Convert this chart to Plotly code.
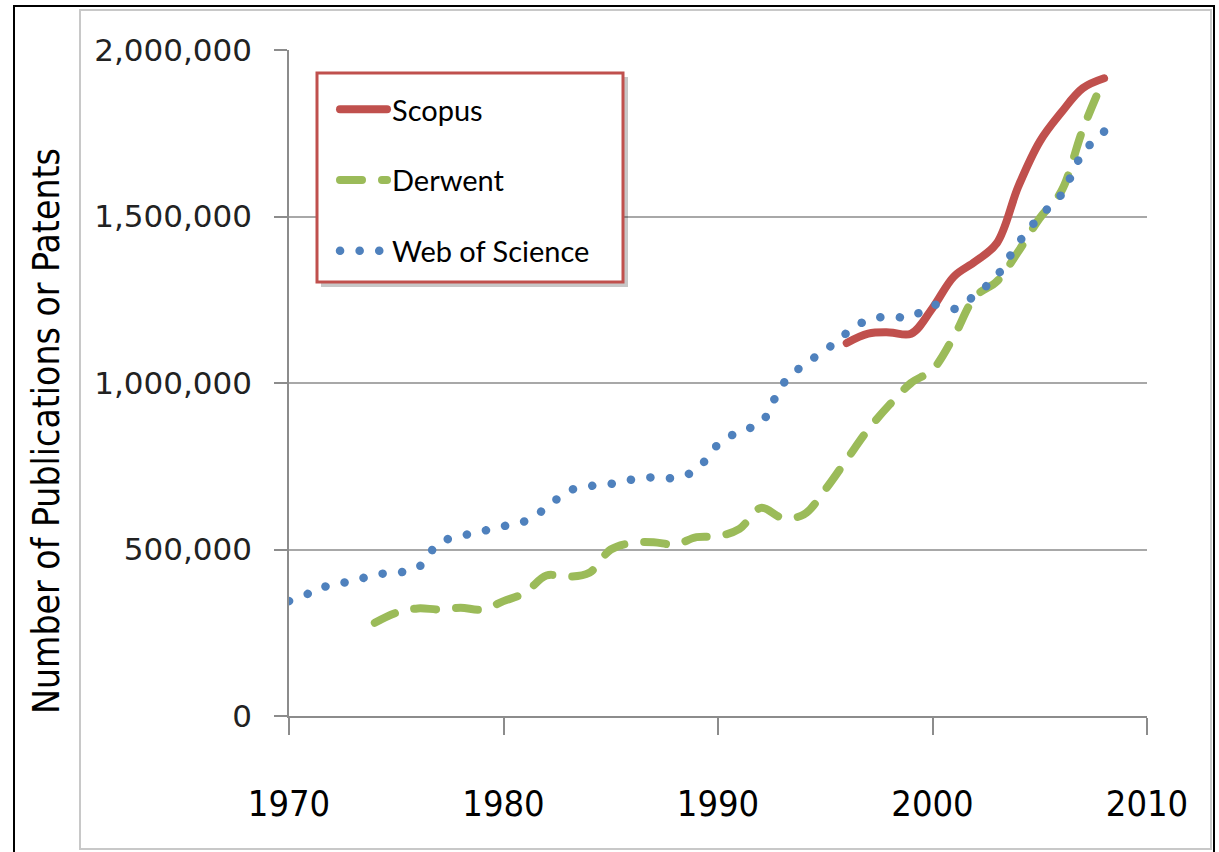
import plotly.graph_objects as go

# ---- data ----
wos_years = list(range(1970, 2009))
wos_values = [345000, 370000, 395000, 405000, 425000, 430000, 445000, 520000, 540000, 555000,
              570000, 585000, 625000, 675000, 690000, 697000, 710000, 717000, 715000, 740000,
              815000, 855000, 880000, 995000, 1055000, 1098000, 1150000, 1190000, 1199000, 1198000,
              1235000, 1222000, 1265000, 1322000, 1420000, 1500000, 1565000, 1690000, 1755000]

derwent_years = list(range(1974, 2009))
derwent_values = [280000, 310000, 323000, 320000, 325000, 320000, 345000, 370000, 422000, 418000,
                  430000, 500000, 520000, 522000, 515000, 537000, 540000, 562000, 625000, 595000,
                  605000, 680000, 770000, 860000, 935000, 1000000, 1040000, 1140000, 1260000, 1305000,
                  1395000, 1495000, 1575000, 1760000, 1915000]

scopus_years = list(range(1996, 2009))
scopus_values = [1120000, 1148000, 1152000, 1148000, 1225000, 1320000, 1365000, 1420000, 1590000,
                 1725000, 1812000, 1885000, 1915000]

x_ticks = [1970, 1980, 1990, 2000, 2010]
y_ticks = [0, 500000, 1000000, 1500000, 2000000]

# ---- figure geometry helpers ----
W, H = 1219, 852
L, R, T, B = 289, 1147, 50, 716


def px_x(p):
    return (p - L) / (R - L)


def px_y(p):
    return (B - p) / (B - T)


NARROW = "Liberation Sans Narrow, DejaVu Sans Condensed, Liberation Sans, sans-serif"

fig = go.Figure()
fig.add_trace(go.Scatter(x=scopus_years, y=scopus_values, name="Scopus", mode="lines",
                         line=dict(color="#c0504d", width=8, shape="spline"),
                         legendgroup="a"))
fig.add_trace(go.Scatter(x=derwent_years, y=derwent_values, name="Derwent", mode="lines",
                         line=dict(color="#9bbb59", width=8, shape="spline", dash="22px,20px"),
                         legendgroup="b"))
fig.add_trace(go.Scatter(x=wos_years, y=wos_values, name="Web of Science", mode="lines",
                         line=dict(color="#4f81bd", width=8.5, shape="spline", dash="0.1px,19.5px"),
                         legendgroup="c"))

shapes = [
    # outer black frame
    dict(type="rect", xref="paper", yref="paper", x0=px_x(14), x1=px_x(1214), y0=px_y(870), y1=px_y(6),
         line=dict(color="black", width=2), layer="below"),
    # inner gray frame
    dict(type="rect", xref="paper", yref="paper", x0=px_x(80), x1=px_x(1211), y0=px_y(849), y1=px_y(10),
         line=dict(color="#c8c8c8", width=2), layer="below"),
    # legend shadow
    dict(type="rect", xref="paper", yref="paper", x0=px_x(321), x1=px_x(628), y0=px_y(287), y1=px_y(77),
         line=dict(width=0), fillcolor="rgba(0,0,0,0.22)", layer="above"),
    # legend box
    dict(type="rect", xref="paper", yref="paper", x0=px_x(317), x1=px_x(623), y0=px_y(282), y1=px_y(73),
         line=dict(color="#c0504d", width=3), fillcolor="white", layer="above"),
]

fig.update_layout(
    width=W, height=H,
    margin=dict(l=L, r=W - R, t=T, b=H - B, pad=0),
    paper_bgcolor="white", plot_bgcolor="white",
    shapes=shapes,
    showlegend=True,
    legend=dict(x=px_x(335), y=px_y(84), xanchor="left", yanchor="top",
                bgcolor="rgba(0,0,0,0)", borderwidth=0,
                font=dict(family="Lato", size=29, color="black"),
                traceorder="grouped", tracegroupgap=30, itemwidth=47),
    annotations=[dict(text="Number of Publications or Patents", textangle=-90,
                      xref="paper", yref="paper", x=px_x(47), y=px_y(431),
                      xanchor="center", yanchor="middle", showarrow=False,
                      font=dict(family=NARROW, size=37, color="black"))],
)

fig.update_xaxes(range=[1970, 2010], tickvals=x_ticks, ticktext=[str(v) for v in x_ticks],
                 showgrid=False, zeroline=False, showline=True, linecolor="#8c8c8c", linewidth=1.5,
                 ticks="outside", ticklen=17, tickcolor="#8c8c8c", tickwidth=1.5,
                 ticklabelstandoff=38,
                 tickfont=dict(family=NARROW, size=36, color="black"))
fig.update_yaxes(range=[0, 2000000], tickvals=y_ticks, tickformat=",",
                 showgrid=True, gridcolor="#a8a8a8", gridwidth=1.5, zeroline=False,
                 showline=True, linecolor="#8c8c8c", linewidth=1.5,
                 ticks="outside", ticklen=13, tickcolor="#8c8c8c", tickwidth=1.5,
                 ticklabelstandoff=16,
                 tickfont=dict(family="DejaVu Sans", size=31, color="#222222"))

post = """
document.body.style.margin = '0';
document.body.style.padding = '0';
var s = document.createElement('style');
s.innerHTML = '.js-line { stroke-linecap: round !important; stroke-linejoin: round !important; }';
document.head.appendChild(s);
"""

fig.write_html("out.html", post_script=post, config={"displayModeBar": False})
